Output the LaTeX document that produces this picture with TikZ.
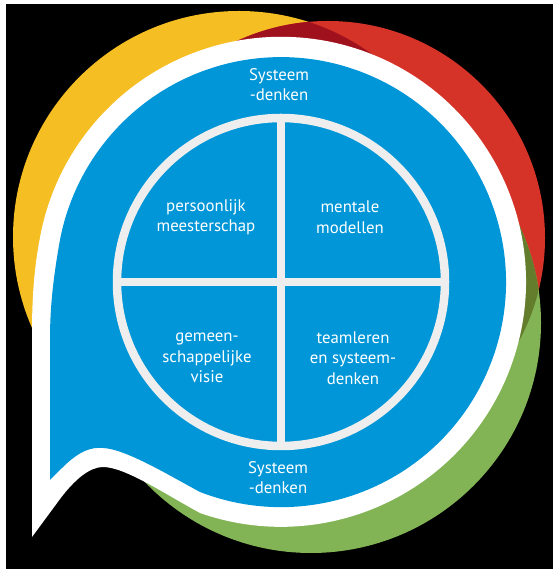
\documentclass[tikz,border=0pt]{standalone}
\usepackage{fontspec}
\setsansfont{PT Sans}
\usepackage{tikz}

\definecolor{bubbleblue}{RGB}{0,150,215}
\definecolor{ringyellow}{RGB}{245,190,35}
\definecolor{ringred}{RGB}{213,50,40}
\definecolor{ringgreen}{RGB}{130,180,85}
\definecolor{darkred}{RGB}{160,17,30}
\definecolor{darkolive}{RGB}{100,125,45}
\definecolor{ringgrey}{RGB}{238,238,238}

\begin{document}
\begin{tikzpicture}[x=1pt,y=1pt]
            \useasboundingbox (0,0) rectangle (553,569);
            \fill[white] (0,0) rectangle (553,569);
            \fill[black] (6,0) rectangle (553,565);

            \coordinate (ctr) at (281,287);
            \coordinate (yc) at (239,332);
            \coordinate (rc) at (328,331);
            \coordinate (gc) at (311,246);

            % coloured rings behind the bubble
            \fill[ringyellow] (yc) circle[radius=226];
            \fill[ringred] (rc) circle[radius=217];
            \begin{scope}
                \clip (yc) circle[radius=226];
                \fill[darkred] (rc) circle[radius=217];
            \end{scope}
            \fill[ringgreen] (gc) circle[radius=230];
            \begin{scope}
                \clip (rc) circle[radius=217];
                \fill[darkolive] (gc) circle[radius=230];
            \end{scope}

            % speech bubble
            \fill[white] (32,32) -- (60,70) .. controls (75,90) and (90,102) .. (103,102)
                .. controls (125,102) and (165,75) .. (200,56)
                arc[start angle=250.7, end angle=530, radius=245]
                .. controls (34,300) and (32,270) .. (32,236) -- cycle;
            \fill[bubbleblue] (50,89) -- (62,101) .. controls (80,119) and (92,122) .. (103,121)
                .. controls (125,120) and (165,96) .. (200,77)
                arc[start angle=248.9, end angle=530, radius=225]
                .. controls (54,295) and (50,265) .. (50,230) -- cycle;

            % inner circle with quadrants
            \begin{scope}[line width=8.5pt, draw=ringgrey]
                \draw (ctr) circle[radius=164];
                \draw (ctr) ++(0,164) -- ++(0,-328);
                \draw (ctr) ++(-164,0) -- ++(328,0);
            \end{scope}

            \begin{scope}[every node/.style={text=white, align=center, font=\sffamily\fontsize{16.8}{20.5}\selectfont}]
                \node (top) at (279,484.5) {Systeem\\-denken};
                \node (bottom) at (278,91.5) {Systeem\\-denken};
                \node (pm) at (206,352) {persoonlijk\\meesterschap};
                \node (mm) at (350,352) {mentale\\modellen};
                \node (gv) at (207,211) {gemeen-\\schappelijke\\visie};
                \node (ts) at (353,211) {teamleren\\en systeem-\\denken};
            \end{scope}
        \end{tikzpicture}
\end{document}
